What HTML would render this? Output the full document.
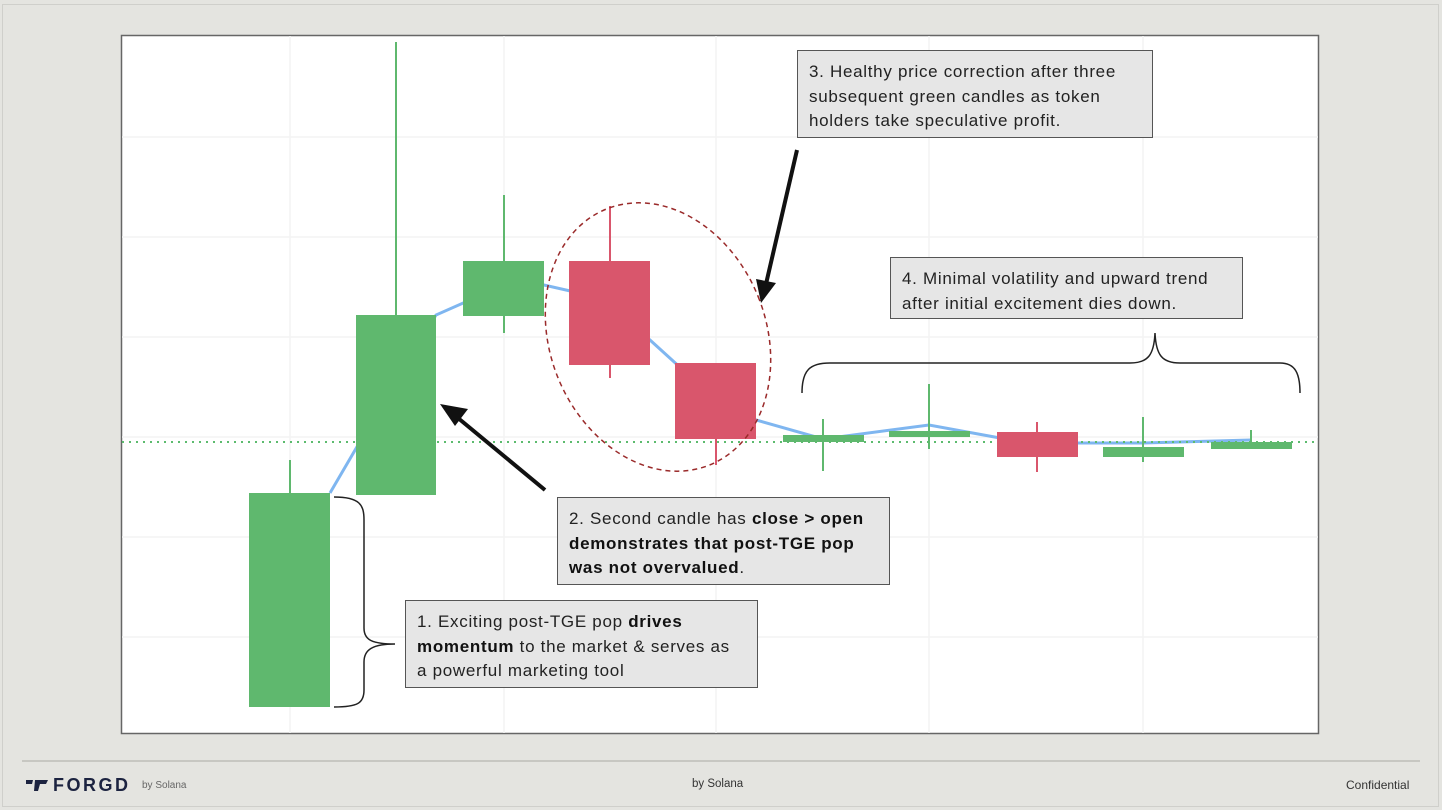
<!DOCTYPE html>
<html><head><meta charset="utf-8"><style>
body{margin:0;width:1442px;height:810px;background:#e4e4e0;font-family:"Liberation Sans",sans-serif;overflow:hidden;position:relative}
.box{position:absolute;background:#e6e6e6;border:1.5px solid #555;box-sizing:border-box;font-size:17px;letter-spacing:0.7px;line-height:24.5px;color:#222;padding:9px 11px;white-space:nowrap}
.box b{color:#111}
</style></head><body>
<div style="position:absolute;left:2px;top:4px;width:1437px;height:803px;border:1px solid #cfcfcb;box-sizing:border-box"></div>
<svg width="1442" height="810" style="position:absolute;left:0;top:0">
<rect x="121.5" y="35.5" width="1197" height="698" fill="#fff" stroke="#666" stroke-width="1.5"/>
<g stroke="#f3f4f4" stroke-width="1.5">
<line x1="290" y1="36" x2="290" y2="733"/><line x1="504" y1="36" x2="504" y2="733"/><line x1="716" y1="36" x2="716" y2="733"/><line x1="929" y1="36" x2="929" y2="733"/><line x1="1143" y1="36" x2="1143" y2="733"/>
<line x1="122" y1="137" x2="1318" y2="137"/><line x1="122" y1="237" x2="1318" y2="237"/><line x1="122" y1="337" x2="1318" y2="337"/><line x1="122" y1="437" x2="1318" y2="437"/><line x1="122" y1="537" x2="1318" y2="537"/><line x1="122" y1="637" x2="1318" y2="637"/>
</g>
<polyline fill="none" stroke="#7fb6f0" stroke-width="3" points="330,493 396,380 436,315 504,285 544,285 610,300 650,340 716,400 756,420 823,439 929,425 1000,438 1037,443 1143,443 1251,440"/>
<line x1="122" y1="442" x2="1318" y2="442" stroke="#5cbb6e" stroke-width="2" stroke-dasharray="2,5"/>
<g fill="#5fb86e" stroke="#5fb86e" stroke-width="2">
<line x1="290" y1="460" x2="290" y2="494"/><rect x="249" y="493" width="81" height="214" stroke="none"/>
<line x1="396" y1="42" x2="396" y2="316"/><rect x="356" y="315" width="80" height="180" stroke="none"/>
<line x1="504" y1="195" x2="504" y2="333"/><rect x="463" y="261" width="81" height="55" stroke="none"/>
<line x1="823" y1="419" x2="823" y2="471"/><rect x="783" y="435" width="81" height="7" stroke="none"/>
<line x1="929" y1="384" x2="929" y2="449"/><rect x="889" y="431" width="81" height="6" stroke="none"/>
<line x1="1143" y1="417" x2="1143" y2="462"/><rect x="1103" y="447" width="81" height="10" stroke="none"/>
<line x1="1251" y1="430" x2="1251" y2="443"/><rect x="1211" y="442" width="81" height="7" stroke="none"/>
</g>
<g fill="#d9566c" stroke="#d9566c" stroke-width="2">
<line x1="610" y1="206" x2="610" y2="378"/><rect x="569" y="261" width="81" height="104" stroke="none"/>
<line x1="716" y1="363" x2="716" y2="465"/><rect x="675" y="363" width="81" height="76" stroke="none"/>
<line x1="1037" y1="422" x2="1037" y2="472"/><rect x="997" y="432" width="81" height="25" stroke="none"/>
</g>
<ellipse cx="658" cy="337" rx="108" ry="138" transform="rotate(-22 658 337)" fill="none" stroke="#9a2a2a" stroke-width="1.5" stroke-dasharray="5,4"/>
<g stroke="#111" stroke-width="4" fill="#111">
<line x1="545" y1="490" x2="458" y2="418"/><polygon points="440,404 468,409 455,426" stroke="none"/>
<line x1="797" y1="150" x2="766" y2="284"/><polygon points="761,303 756,279 776,283" stroke="none"/>
</g>
<g fill="none" stroke="#222" stroke-width="1.5">
<path d="M334,497 C360,497 364,505 364,520 L364,628 C364,640 372,644 395,644 C372,644 364,650 364,662 L364,690 C364,703 358,707 334,707"/>
<path d="M802,393 C802,370 810,363 830,363 L1130,363 C1148,363 1154,355 1155,333 C1156,355 1162,363 1180,363 L1280,363 C1295,363 1300,373 1300,393"/>
</g>
<line x1="22" y1="761" x2="1420" y2="761" stroke="#aaaaa5" stroke-width="1"/>
<path d="M26,780 L33,780 L32,784 L26,784 Z M35,780 L48,780 L46,784 L40,784 L38,791 L34,791 Z" fill="#1c2340"/>
</svg>
<div class="box" style="left:797px;top:50px;width:356px;height:88px">3. Healthy price correction after three<br>subsequent green candles as token<br>holders take speculative profit.</div>
<div class="box" style="left:890px;top:257px;width:353px;height:62px">4. Minimal volatility and upward trend<br>after initial excitement dies down.</div>
<div class="box" style="left:557px;top:497px;width:333px;height:88px">2. Second candle has <b>close &gt; open</b><br><b>demonstrates that post-TGE pop</b><br><b>was not overvalued</b>.</div>
<div class="box" style="left:405px;top:600px;width:353px;height:88px">1. Exciting post-TGE pop <b>drives</b><br><b>momentum</b> to the market &amp; serves as<br>a powerful marketing tool</div>
<div style="position:absolute;left:53px;top:775px;font-size:18px;font-weight:bold;letter-spacing:2.5px;color:#1c2340">FORGD</div>
<div style="position:absolute;left:142px;top:780px;font-size:10px;color:#666">by Solana</div>
<div style="position:absolute;left:692px;top:778px;font-size:11.5px;color:#333">by Solana</div>
<div style="position:absolute;left:1346px;top:778px;font-size:12px;color:#333">Confidential</div>
</body></html>
